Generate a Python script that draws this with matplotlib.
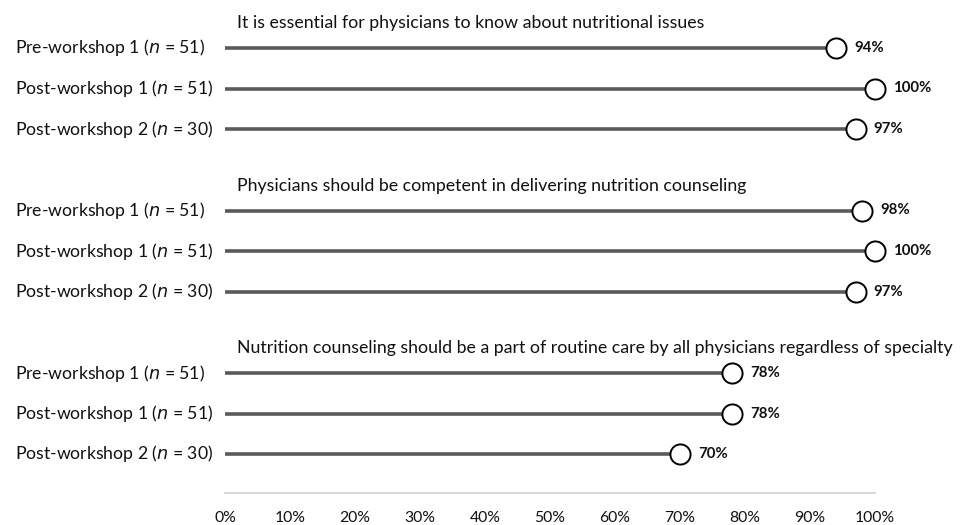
import matplotlib
matplotlib.use("Agg")
import matplotlib.pyplot as plt

plt.rcParams['font.family'] = ['Lato', 'DejaVu Sans']

titles = [
    "It is essential for physicians to know about nutritional issues",
    "Physicians should be competent in delivering nutrition counseling",
    "Nutrition counseling should be a part of routine care by all physicians regardless of specialty",
]
groups = ["Pre-workshop 1", "Post-workshop 1", "Post-workshop 2"]
group_n = [51, 51, 30]
values = [
    [94, 100, 97],
    [98, 100, 97],
    [78, 78, 70],
]
xticks = [0, 10, 20, 30, 40, 50, 60, 70, 80, 90, 100]

W, H = 966, 525
fig = plt.figure(figsize=(W / 100, H / 100), dpi=100)
left_px, right_px = 225, 875
ax = fig.add_axes([left_px / W, 0, (right_px - left_px) / W, 1])
ax.set_xlim(0, 100)
ax.set_ylim(H, 0)
ax.axis('off')

unit = 100 / (right_px - left_px)  # data units per pixel
row_y0 = 48
row_gap = 40.5
group_gap = 162.5

for gi, (title, vals) in enumerate(zip(titles, values)):
    base = row_y0 + gi * group_gap
    ax.text((237 - left_px) * unit, base - 25, title, fontsize=12.8,
            ha='left', va='center', color='#111111', clip_on=False)
    for ri, (g, n, v) in enumerate(zip(groups, group_n, vals)):
        y = base + ri * row_gap
        ax.text((15 - left_px) * unit, y, f"{g} ($\\it{{n}}$ = {n})", fontsize=12.7,
                ha='left', va='center', color='#111111', clip_on=False)
        ax.plot([0, v], [y, y], color='#5a5a5a', lw=2.6, solid_capstyle='butt', zorder=1)
        ax.plot([v], [y], marker='o', ms=14.5, mfc='white', mec='black', mew=1.4, zorder=3,
                clip_on=False)
        ax.text(v + 18 * unit, y, f"{v}%", fontsize=10.8, fontweight='bold',
                ha='left', va='center', color='#111111', clip_on=False)

# axis line and tick labels
ax.plot([0, 100], [493, 493], color='#d0d0d0', lw=1.2, clip_on=False)
for t in xticks:
    ax.text(t, 518, f"{t}%", fontsize=11.3, ha='center', va='center', color='#111111',
            clip_on=False)

fig.savefig("out.png", dpi=100)
